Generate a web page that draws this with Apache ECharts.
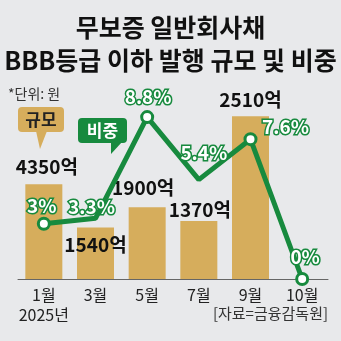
<!DOCTYPE html>
<html><head><meta charset="utf-8">
<script src="https://cdn.jsdelivr.net/npm/echarts@6/dist/echarts.min.js"></script>
<style>html,body{margin:0;padding:0;background:#e8e9eb;}#c{width:341px;height:341px;}</style>
</head><body><div id="c"></div>
<script>
// Data
const categories = ['1월\n2025년', '3월', '5월', '7월', '9월', '10월'];
const amountLabels = ['4350억', '1540억', '1900억', '1370억', '2510억'];   // 발행 규모 (labels as printed)
const barLevels = [5.15, 2.8, 3.9, 3.15, 8.85];                              // bar heights as drawn in the picture
const shares = [3, 3.3, 8.8, 5.4, 7.6, 0];                                   // 비중 (%)
const shareLabels = ['3%', '3.3%', '8.8%', '5.4%', '7.6%', '0%'];
const markerOn = [true, false, true, false, true, true];

const GREEN = '#178a3e', GOLD = '#d6ad5c', FONT = '"Noto Sans CJK KR", sans-serif';
const barLabelOffsets = [[3,-7],[0,27],[-4,-9],[1,-1],[0,-6]];
const lineLabelOffsets = [[-2,-18],[-4,-11],[1,-20],[5,-27],[35,-12],[3,-22]];

const chart = echarts.init(document.getElementById('c'), null, {renderer:'canvas'});
chart.setOption({
  backgroundColor: '#e8e9eb',
  animation: false,
  grid: {left: 18, right: 13, top: 95, bottom: 62},
  xAxis: {
    type: 'category', data: categories, boundaryGap: true,
    axisLine: {lineStyle: {color: '#666', width: 1}},
    axisTick: {interval: 0, length: 4, lineStyle: {color: '#666'}},
    axisLabel: {interval: 0, color: '#222', fontFamily: FONT, fontSize: 16, lineHeight: 20, margin: 6}
  },
  yAxis: {type: 'value', min: 0, max: 10, show: false, splitLine: {show: false}},
  series: [
    {
      type: 'bar', barWidth: 37, z: 1,
      itemStyle: {color: GOLD},
      data: barLevels.map((v, i) => ({
        value: v,
        label: {show: true, position: 'top', distance: 0, formatter: amountLabels[i],
          offset: barLabelOffsets[i], color: '#111', fontFamily: FONT, fontWeight: 'bold',
          fontSize: 19, lineHeight: 20}
      }))
    },
    {
      type: 'line', z: 3, clip: false,
      lineStyle: {color: GREEN, width: 5},
      itemStyle: {color: '#fff', borderColor: GREEN, borderWidth: 3},
      symbol: 'circle', symbolSize: 11,
      data: shares.map((v, i) => ({
        value: v,
        symbolSize: markerOn[i] ? 11 : 0,
        label: {show: true, position: 'inside', formatter: shareLabels[i], offset: lineLabelOffsets[i],
          color: '#fff', textBorderColor: GREEN, textBorderWidth: 3, fontFamily: FONT,
          fontWeight: 'bold', fontSize: 19}
      }))
    }
  ],
  graphic: [
    {type: 'text', left: 'center', top: 15, style: {text: '무보증 일반회사채', font: 'bold 25px ' + FONT, fill: '#111', textAlign: 'center'}},
    {type: 'text', left: 'center', top: 48, style: {text: 'BBB등급 이하 발행 규모 및 비중', font: 'bold 25px ' + FONT, fill: '#111', textAlign: 'center'}},
    {type: 'text', left: 8, top: 87, style: {text: '*단위: 원', font: '14px ' + FONT, fill: '#333'}},
    {type: 'polygon', shape: {points: [[36,131],[47,131],[40,149]]}, style: {fill: GOLD}},
    {type: 'rect', shape: {x: 18, y: 107, width: 46, height: 25, r: 4}, style: {fill: GOLD}},
    {type: 'text', x: 41, y: 119.5, style: {text: '규모', font: 'bold 17px ' + FONT, fill: '#222', textAlign: 'center', textVerticalAlign: 'middle'}},
    {type: 'polygon', shape: {points: [[111,142],[122,142],[111,154]]}, style: {fill: GREEN}},
    {type: 'rect', shape: {x: 78, y: 118, width: 49, height: 25, r: 4}, style: {fill: GREEN}},
    {type: 'text', x: 102.5, y: 130.5, style: {text: '비중', font: 'bold 17px ' + FONT, fill: '#fff', textAlign: 'center', textVerticalAlign: 'middle'}},
    {type: 'text', right: 13, top: 306, style: {text: '[자료=금융감독원]', font: '15px ' + FONT, fill: '#333'}}
  ]
});
</script></body></html>
